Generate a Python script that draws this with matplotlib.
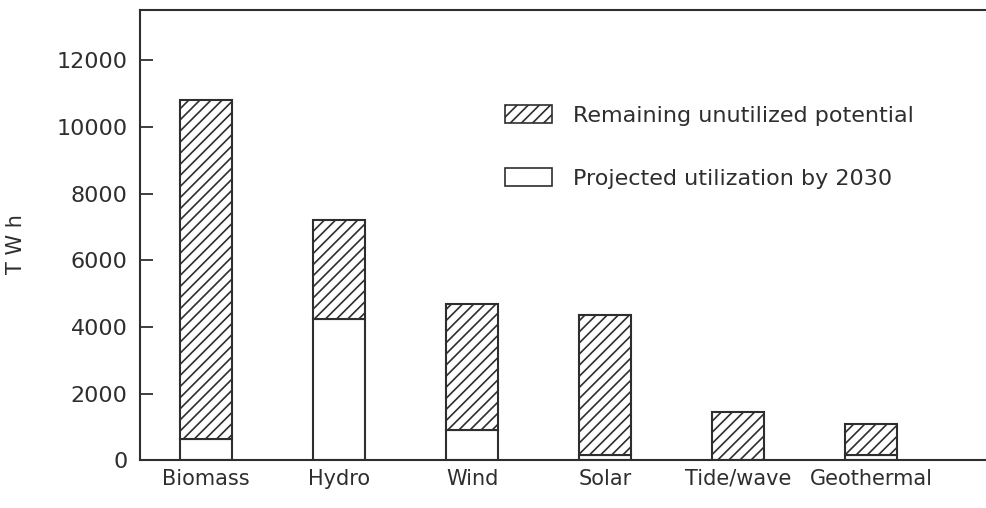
import numpy as np
import matplotlib
matplotlib.use('Agg')
import matplotlib.pyplot as plt
from matplotlib.patches import Patch

# values (TWh)
sources = ['Biomass', 'Hydro', 'Wind', 'Solar', 'Tide/wave', 'Geothermal']
total_potential = [10800, 7200, 4700, 4350, 1450, 1100]
projected_2030 = [640, 4250, 900, 150, 0, 150]
remaining = [t - p for t, p in zip(total_potential, projected_2030)]

ink = '#2e2e2e'
plt.rcParams['font.family'] = ['DejaVu Sans']
plt.rcParams['hatch.linewidth'] = 1.2
plt.rcParams['hatch.color'] = ink

fig = plt.figure(figsize=(9.87, 5.08), dpi=100)
fig.patch.set_facecolor('white')
ax = fig.add_axes([0.142, 0.094, 0.858, 0.886])

x = np.arange(len(sources))
w = 0.39
ax.bar(x, projected_2030, w, color='white', edgecolor=ink, linewidth=1.5)
ax.bar(x, remaining, w, bottom=projected_2030, color='white',
       edgecolor=ink, linewidth=1.5, hatch='///')

ax.set_xlim(-0.496, 5.87)
ax.set_ylim(0, 13500)
ax.set_yticks(range(0, 12001, 2000))
ax.set_xticks(x)
ax.set_xticklabels(sources, fontsize=15, color=ink)
ax.tick_params(axis='y', direction='in', length=9, width=1.3, pad=9,
               labelsize=16, colors=ink)
ax.tick_params(axis='x', length=0, pad=6)
ax.set_ylabel('T W h', fontsize=15, color=ink, labelpad=20)
ax.yaxis.set_label_coords(-0.135, 0.48)

ax.spines['right'].set_visible(False)
for s in ['left', 'bottom', 'top']:
    ax.spines[s].set_linewidth(1.5)
    ax.spines[s].set_color(ink)

handles = [Patch(facecolor='white', edgecolor=ink, hatch='///', linewidth=1.2),
           Patch(facecolor='white', edgecolor=ink, linewidth=1.2)]
labels = ['Remaining unutilized potential', 'Projected utilization by 2030']
leg = ax.legend(handles, labels, loc='upper left', bbox_to_anchor=(0.431, 0.79),
                frameon=False, fontsize=16, handlelength=2.1, handleheight=0.9,
                labelspacing=1.9, handletextpad=0.95, borderpad=0, borderaxespad=0)
for t in leg.get_texts():
    t.set_color(ink)

fig.savefig('out.png', dpi=100, facecolor='white')
